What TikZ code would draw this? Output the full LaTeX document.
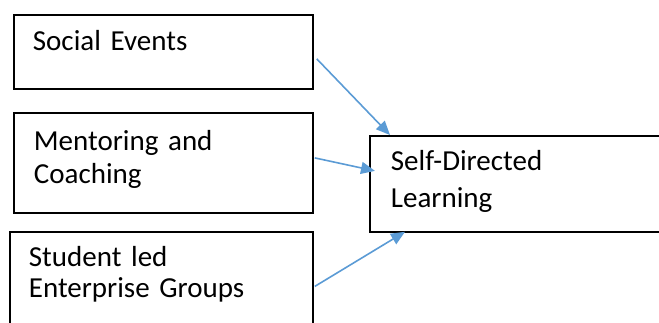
\documentclass[tikz,border=0pt]{standalone}
\usepackage{fontspec}
\setmainfont{Carlito}
\usetikzlibrary{arrows.meta}
\definecolor{linkblue}{HTML}{5B9BD5}
\tikzset{
  factor/.style={draw=black, line width=1.8pt, anchor=north west, align=left,
    inner ysep=0pt, text=black, font=\fontsize{29}{34}\selectfont},
  link/.style={draw=linkblue, line width=1.6pt, -{Triangle[length=14pt,width=12pt]}}
}
\begin{document}
\begin{tikzpicture}[x=1pt,y=-1pt]
	\useasboundingbox (0,0) rectangle (659,322);
	\node[factor, inner xsep=19pt, text width=261pt, text height=36pt, text depth=38pt] (social) at (13,14) {Social Events};
	\node[factor, inner xsep=20pt, text width=259pt, text height=38pt, text depth=62pt, font=\fontsize{29}{33}\selectfont] (mentor) at (13,112) {Mentoring and\\Coaching};
	\node[factor, inner xsep=19pt, text width=265pt, text height=35pt, text depth=74pt, font=\fontsize{29}{31}\selectfont] (student) at (9,231) {Student led\\Enterprise Groups};
	\node[factor, inner xsep=21pt, text width=278pt, text height=35pt, text depth=61pt, font=\fontsize{29}{37}\selectfont] (learning) at (369,135) {Self-Directed\\Learning};
	\draw[link] ([xshift=3pt,yshift=-7pt]social.east) -- ([xshift=21pt]learning.north west);
	\draw[link] ([xshift=1pt,yshift=5pt]mentor.east) -- ([xshift=6pt,yshift=13pt]learning.west);
	\draw[link] ([xshift=1pt]student.east) -- ([xshift=36pt,yshift=1pt]learning.south west);
\end{tikzpicture}
\end{document}
